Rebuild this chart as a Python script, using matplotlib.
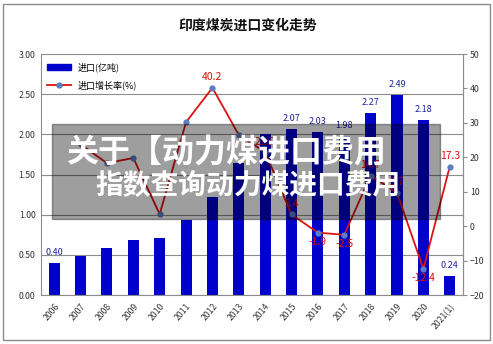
import matplotlib.pyplot as plt
import matplotlib.patches as mpatches
from matplotlib.lines import Line2D
import numpy as np

plt.rcParams['font.family'] = ['Noto Sans CJK SC', 'DejaVu Sans']

years = ['2006', '2007', '2008', '2009', '2010', '2011', '2012', '2013',
         '2014', '2015', '2016', '2017', '2018', '2019', '2020', '2021(1)']
imports = [0.40, 0.49, 0.58, 0.69, 0.71, 0.93, 1.22, 1.64,
           2.01, 2.07, 2.03, 1.98, 2.27, 2.49, 2.18, 0.24]
growth = [np.nan, 23.8, 18.3, 19.8, 3.5, 30.2, 40.2, 26.5,
          21.5, 3.4, -1.9, -2.5, 14.7, 9.7, -12.4, 17.3]

# which points carry a value label
bar_lab = [0, 9, 10, 11, 12, 13, 14, 15]
line_up = [6, 8, 9, 12, 13, 15]
line_down = [10, 11, 14]

fig = plt.figure(figsize=(4.93, 3.44), dpi=100)
ax = fig.add_axes([0.0832, 0.1424, 0.8558, 0.7006])
x = np.arange(len(years))

ax.bar(x, imports, width=0.42, color='#0000CC', zorder=2)
ax.set_xlim(-0.5, 15.5)
ax.set_ylim(0, 3)
ax.set_yticks(np.arange(0, 3.01, 0.5))
ax.set_yticklabels(['%.2f' % v for v in np.arange(0, 3.01, 0.5)])
ax.grid(axis='y', color='#8c8c8c', linewidth=0.8, zorder=0)
ax.set_axisbelow(True)
ax.set_xticks(x)
ax.set_xticklabels(years, rotation=50, ha='right', va='top', rotation_mode='anchor')
ax.tick_params(axis='both', labelsize=6.3, colors='#333333', length=0, pad=4)
ax.tick_params(axis='x', pad=5)
for s in ['top', 'right', 'bottom', 'left']:
    ax.spines[s].set_color('#8c8c8c')
ax.spines['top'].set_visible(False)

for i in bar_lab:
    ax.text(x[i], imports[i] + 0.07, '%.2f' % imports[i], ha='center', va='bottom',
            fontsize=6.5, color='#2020a0', zorder=3)

ax2 = ax.twinx()
ax2.plot(x, growth, color='#e01010', linewidth=1.3, marker='o', markersize=3.5,
         markerfacecolor='#5b7fc0', markeredgecolor='#5b7fc0')
ax2.set_ylim(-20, 50)
ax2.set_yticks(np.arange(-20, 51, 10))
ax2.tick_params(axis='y', labelsize=6.3, colors='#333333', length=3, pad=2, color='#8c8c8c')
ax2.spines['right'].set_color('#8c8c8c')
ax2.spines['top'].set_visible(False)
ax2.spines['left'].set_visible(False)
ax2.spines['bottom'].set_visible(False)

for i in line_up:
    ax2.annotate('%.1f' % growth[i], (x[i], growth[i]), xytext=(0, 4),
                 textcoords='offset points', ha='center', va='bottom',
                 fontsize=7.5, color='#e01010')
for i in line_down:
    ax2.annotate('%.1f' % growth[i], (x[i], growth[i]), xytext=(0, -3),
                 textcoords='offset points', ha='center', va='top',
                 fontsize=7.5, color='#e01010')

handles = [mpatches.Patch(color='#0000CC'),
           Line2D([], [], color='#e01010', linewidth=1.3, marker='o', markersize=3.5,
                  markerfacecolor='#5b7fc0', markeredgecolor='#5b7fc0')]
ax2.legend(handles, ['进口(亿吨)', '进口增长率(%)'], loc='upper left', frameon=False,
           fontsize=6.5, handlelength=2.6, handleheight=0.6, labelspacing=0.9,
           bbox_to_anchor=(-0.005, 1.0))

fig.text(0.503, 0.925, '印度煤炭进口变化走势', ha='center', va='center',
         fontsize=10, fontweight='bold', color='#111111')

# outer frame
fig.patches.append(mpatches.Rectangle((3 / 493, 4 / 344), 487 / 493, 336 / 344,
                                      transform=fig.transFigure, fill=False,
                                      edgecolor='#8c8c8c', linewidth=1))

# overlay band with white caption
fig.patches.append(mpatches.Rectangle((52 / 493, 1 - 219 / 344), 388 / 493, 95 / 344,
                                      transform=fig.transFigure, color='black',
                                      alpha=0.38, zorder=5))
fig.text(66 / 493, 1 - 153 / 344, '关于【动力煤进口费用', ha='left', va='center',
         fontsize=23, fontweight='bold', color='white', zorder=6)
fig.text(95 / 493, 1 - 187 / 344, '指数查询动力煤进口费用', ha='left', va='center',
         fontsize=20, fontweight='bold', color='white', zorder=6)

plt.savefig('out.png', dpi=100)
